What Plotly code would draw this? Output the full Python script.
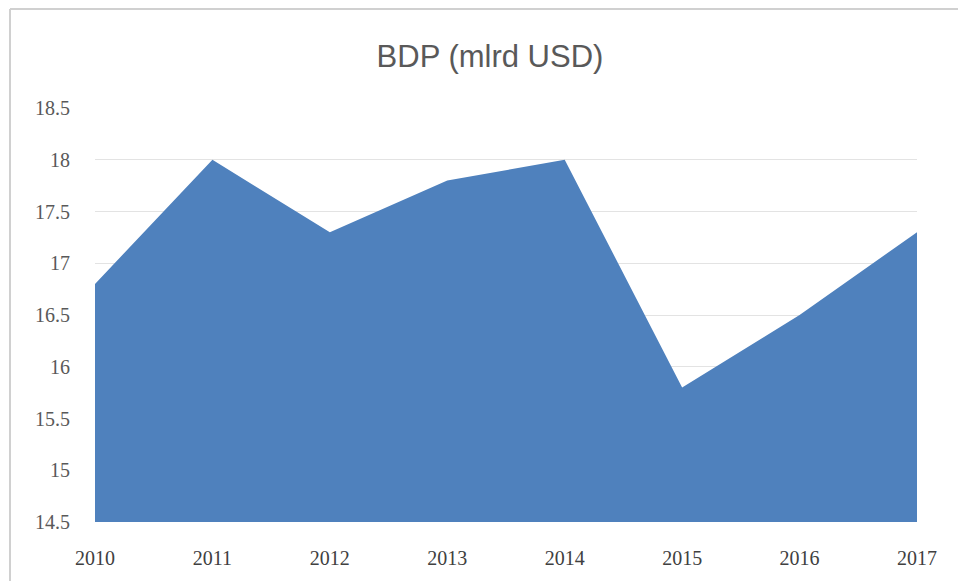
import plotly.graph_objects as go

years = ["2010", "2011", "2012", "2013", "2014", "2015", "2016", "2017"]
gdp = [16.8, 18.0, 17.3, 17.8, 18.0, 15.8, 16.5, 17.3]
y_ticks = [14.5, 15, 15.5, 16, 16.5, 17, 17.5, 18, 18.5]
y_tick_text = ["14.5", "15", "15.5", "16", "16.5", "17", "17.5", "18", "18.5"]
title_text = "BDP (mlrd USD)"

W, H = 958, 581
L, R, T, B = 95, 41, 108, 59
pw, ph = W - L - R, H - T - B

fig = go.Figure()
fig.add_trace(go.Scatter(
    x=years, y=gdp, mode="lines", fill="tozeroy",
    line=dict(color="#4F81BD", width=0),
    fillcolor="#4F81BD", hoverinfo="x+y",
))

fig.update_layout(
    width=W, height=H,
    margin=dict(l=L, r=R, t=T, b=B),
    paper_bgcolor="white", plot_bgcolor="white",
    showlegend=False,
    title=dict(text=title_text, x=490 / W, xanchor="center",
               y=1 - 56 / H, yanchor="middle",
               font=dict(family="Liberation Sans, sans-serif",
                         size=31, color="#595959")),
    xaxis=dict(type="category", range=[0, len(years) - 1],
               showgrid=False, zeroline=False, showline=False,
               ticks="", ticklabelstandoff=22,
               tickfont=dict(family="Liberation Serif, serif", size=20, color="#404040")),
    yaxis=dict(range=[14.5, 18.5], tickvals=y_ticks, ticktext=y_tick_text,
               showgrid=True, gridcolor="#E3E3E3", gridwidth=1,
               zeroline=False, showline=False, ticks="", ticklabelstandoff=24,
               tickfont=dict(family="Liberation Serif, serif", size=20, color="#595959")),
    shapes=[
        dict(type="line", xref="paper", yref="paper",
             x0=(10 - L) / pw, x1=(10 - L) / pw, y0=(T + ph - H) / ph, y1=(T + ph - 9) / ph,
             line=dict(color="#D0D0D0", width=2)),
        dict(type="line", xref="paper", yref="paper",
             x0=(10 - L) / pw, x1=(W - L) / pw, y0=(T + ph - 9) / ph, y1=(T + ph - 9) / ph,
             line=dict(color="#D0D0D0", width=2)),
    ],
)

fig.write_html("out.html")
